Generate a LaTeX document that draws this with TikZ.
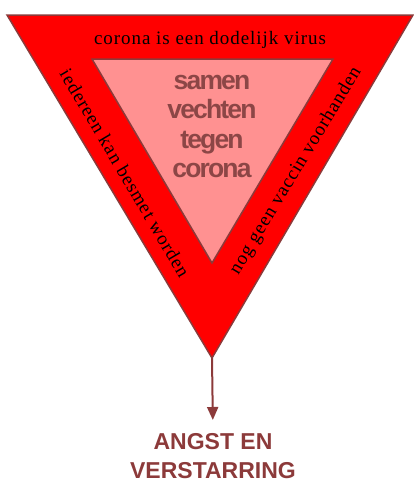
\documentclass[tikz,border=0pt]{standalone}
\usepackage{fontspec}
\setmainfont{Liberation Serif}
\setsansfont{Liberation Sans}
\newfontfamily\bandfont[LetterSpace=5]{Liberation Serif}
\newfontfamily\corefont[LetterSpace=-7]{Liberation Sans}
\usepackage{xcolor}
\usepackage{tikz}
\usetikzlibrary{arrows.meta, positioning}

\definecolor{rimred}{RGB}{140,58,58}
\definecolor{bandred}{RGB}{255,0,0}
\definecolor{corepink}{RGB}{255,145,145}
\definecolor{coretext}{RGB}{140,70,70}

\begin{document}
\begin{tikzpicture}[x=1pt, y=-1pt,
  outertri/.style={draw=rimred, fill=bandred, line width=1.5pt, line join=miter},
  innertri/.style={draw=rimred, fill=corepink, line width=1.5pt},
  bandtxt/.style={font=\bandfont\fontsize{19}{21}\selectfont, inner sep=0pt},
  coretxt/.style={font=\corefont\bfseries\fontsize{26.5}{29.5}\selectfont,
    text=coretext, align=center, inner sep=0pt},
  endtxt/.style={font=\sffamily\bfseries\fontsize{23}{29}\selectfont,
    text=rimred, align=center, inner sep=0pt},
  arr/.style={-{Triangle[length=13pt, width=11pt]}, draw=rimred, line width=2pt}
]
  \useasboundingbox (0,0) rectangle (414,483);

  \coordinate (otl)  at (7,15);
  \coordinate (otr)  at (413,15);
  \coordinate (apex) at (212,358);
  \coordinate (itl)  at (92,59);
  \coordinate (itr)  at (333,59);
  \coordinate (ibot) at (212,263);

  \draw[outertri] (otl) -- (otr) -- (apex) -- cycle;
  \draw[innertri] (itl) -- (itr) -- (ibot) -- cycle;

  \node[bandtxt, anchor=base] (virus) at (210,44) {corona is een dodelijk virus};
  \node[bandtxt, rotate=-59.5] (besmet) at (125,173) {iedereen kan besmet worden};
  \node[bandtxt, rotate=59] (vaccin) at (296,171) {nog geen vaccin voorhanden};

  \node[coretxt, anchor=north] (core) at (212,75) {samen\\vechten\\tegen\\corona};

  \node[endtxt, anchor=north] (angst) at (213,433) {ANGST EN\\VERSTARRING};

  \draw[arr, shorten >=13pt] (apex) -- (angst.north);
\end{tikzpicture}
\end{document}
